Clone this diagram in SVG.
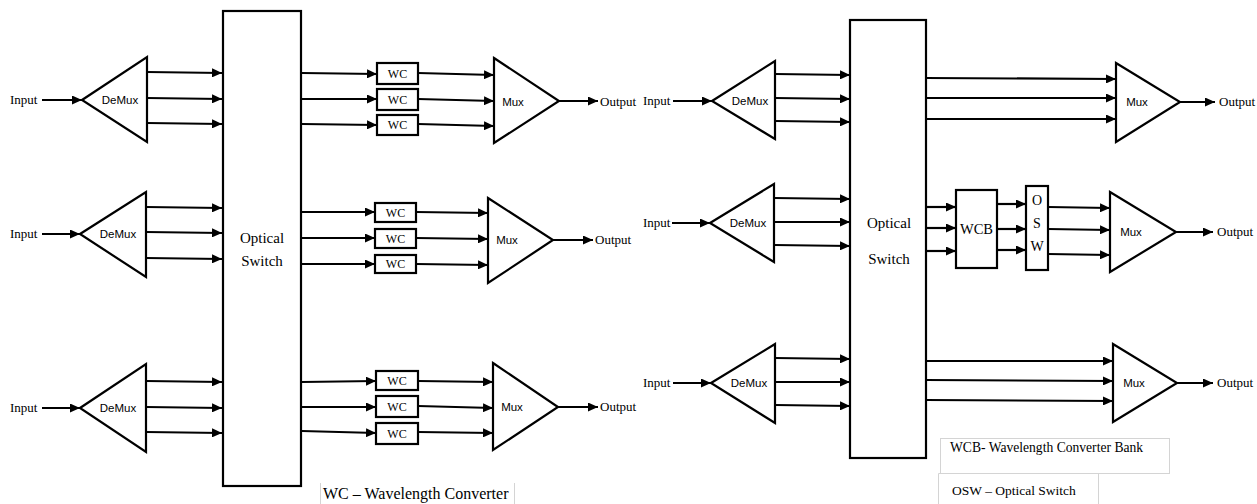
<svg xmlns="http://www.w3.org/2000/svg" width="1257" height="504" viewBox="0 0 1257 504">
<style>
.bg{fill:#fff}
.box{fill:#fff;stroke:#000;stroke-width:2.2}
.tri{fill:#fff;stroke:#000;stroke-width:2.2;stroke-linejoin:miter}
.wc{fill:#fff;stroke:#000;stroke-width:2.2}
.ln{stroke:#000;stroke-width:2.2;fill:none;marker-end:url(#ah)}
.ser{font-family:"Liberation Serif","Times New Roman",serif;fill:#000}
.sans{font-family:"Liberation Sans",Arial,sans-serif;font-size:11.5px;fill:#000}
.io{font-size:13px}
.leg{stroke:#d4d4d4;stroke-width:1;fill:none}
</style>
<defs>
<marker id="ah" markerUnits="userSpaceOnUse" markerWidth="10" markerHeight="9" refX="10" refY="4.5" orient="auto">
<path d="M0,0 L10,4.5 L0,9 z" fill="#000"/>
</marker>
</defs>
<rect class="bg" x="0" y="0" width="1257" height="504"/>

<!-- LEFT DIAGRAM -->
<g id="L-switch">
<rect class="box" x="223" y="11" width="78" height="475"/>
<text class="ser" x="262" y="243" font-size="15" text-anchor="middle">Optical</text>
<text class="ser" x="262" y="266" font-size="15" text-anchor="middle">Switch</text>
</g>
<g id="L-in1"><text class="ser io" x="10" y="104">Input</text></g>
<g id="L-in2"><text class="ser io" x="10" y="238">Input</text></g>
<g id="L-in3"><text class="ser io" x="10" y="412">Input</text></g>
<g id="L-demux1"><polygon class="tri" points="82,100 147,57 147,142"/><text class="sans" x="120" y="104" text-anchor="middle">DeMux</text></g>
<g id="L-demux2"><polygon class="tri" points="80,234 146,192 146,277"/><text class="sans" x="118" y="238" text-anchor="middle">DeMux</text></g>
<g id="L-demux3"><polygon class="tri" points="80,408 146,364 146,452"/><text class="sans" x="118" y="412" text-anchor="middle">DeMux</text></g>

<g id="L-wc1a"><rect class="wc" x="377" y="63" width="41" height="21"/><text class="ser" x="397.5" y="78" font-size="12" text-anchor="middle">WC</text></g>
<g id="L-wc1b"><rect class="wc" x="377" y="89" width="41" height="21"/><text class="ser" x="397.5" y="104" font-size="12" text-anchor="middle">WC</text></g>
<g id="L-wc1c"><rect class="wc" x="377" y="115" width="41" height="20"/><text class="ser" x="397.5" y="129" font-size="12" text-anchor="middle">WC</text></g>
<g id="L-wc2a"><rect class="wc" x="375" y="203" width="41" height="19"/><text class="ser" x="395.5" y="217" font-size="12" text-anchor="middle">WC</text></g>
<g id="L-wc2b"><rect class="wc" x="375" y="229" width="41" height="19"/><text class="ser" x="395.5" y="243" font-size="12" text-anchor="middle">WC</text></g>
<g id="L-wc2c"><rect class="wc" x="375" y="255" width="41" height="18"/><text class="ser" x="395.5" y="268" font-size="12" text-anchor="middle">WC</text></g>
<g id="L-wc3a"><rect class="wc" x="376" y="371" width="42" height="19"/><text class="ser" x="397" y="385" font-size="12" text-anchor="middle">WC</text></g>
<g id="L-wc3b"><rect class="wc" x="376" y="396" width="42" height="21"/><text class="ser" x="397" y="411" font-size="12" text-anchor="middle">WC</text></g>
<g id="L-wc3c"><rect class="wc" x="376" y="423" width="42" height="21"/><text class="ser" x="397" y="438" font-size="12" text-anchor="middle">WC</text></g>

<g id="L-mux1"><polygon class="tri" points="494,58 559,101 494,143"/><text class="sans" x="513" y="106" text-anchor="middle">Mux</text></g>
<g id="L-mux2"><polygon class="tri" points="488,198 553,240 488,283"/><text class="sans" x="507" y="244" text-anchor="middle">Mux</text></g>
<g id="L-mux3"><polygon class="tri" points="493,363 558,407 493,450"/><text class="sans" x="512" y="411" text-anchor="middle">Mux</text></g>
<g id="L-out1"><text class="ser io" x="600" y="106">Output</text></g>
<g id="L-out2"><text class="ser io" x="595" y="244">Output</text></g>
<g id="L-out3"><text class="ser io" x="600" y="411">Output</text></g>

<g id="L-legend">
<line class="leg" x1="320.5" y1="483" x2="320.5" y2="504"/>
<line class="leg" x1="514.5" y1="483" x2="514.5" y2="504"/>
<text class="ser" x="323" y="499" font-size="16">WC – Wavelength Converter</text>
</g>

<!-- RIGHT DIAGRAM -->
<g id="R-switch">
<rect class="box" x="850" y="20" width="76" height="438"/>
<text class="ser" x="889" y="228" font-size="15" text-anchor="middle">Optical</text>
<text class="ser" x="889" y="264" font-size="15" text-anchor="middle">Switch</text>
</g>
<g id="R-in1"><text class="ser io" x="643" y="105">Input</text></g>
<g id="R-in2"><text class="ser io" x="643" y="227">Input</text></g>
<g id="R-in3"><text class="ser io" x="643" y="387">Input</text></g>
<g id="R-demux1"><polygon class="tri" points="712,101 775,61 775,139"/><text class="sans" x="750" y="105" text-anchor="middle">DeMux</text></g>
<g id="R-demux2"><polygon class="tri" points="710,223 774,184 774,262"/><text class="sans" x="748" y="227" text-anchor="middle">DeMux</text></g>
<g id="R-demux3"><polygon class="tri" points="711,383 775,344 775,423"/><text class="sans" x="749" y="387" text-anchor="middle">DeMux</text></g>

<g id="R-wcb"><rect class="box" x="956" y="190" width="41" height="78"/><text class="ser" x="976.5" y="234" font-size="14.5" text-anchor="middle">WCB</text></g>
<g id="R-osw"><rect class="box" x="1026" y="186" width="22" height="84"/>
<text class="ser" x="1037" y="205" font-size="14" text-anchor="middle">O</text>
<text class="ser" x="1037" y="228" font-size="14" text-anchor="middle">S</text>
<text class="ser" x="1037" y="251" font-size="14" text-anchor="middle">W</text>
</g>

<g id="R-mux1"><polygon class="tri" points="1116,63 1180,102 1116,142"/><text class="sans" x="1137" y="106" text-anchor="middle">Mux</text></g>
<g id="R-mux2"><polygon class="tri" points="1110,192 1176,232 1110,272"/><text class="sans" x="1131" y="236" text-anchor="middle">Mux</text></g>
<g id="R-mux3"><polygon class="tri" points="1113,344 1177,383 1113,422"/><text class="sans" x="1134" y="387" text-anchor="middle">Mux</text></g>
<g id="R-out1"><text class="ser io" x="1219" y="106">Output</text></g>
<g id="R-out2"><text class="ser io" x="1217" y="236">Output</text></g>
<g id="R-out3"><text class="ser io" x="1217" y="387">Output</text></g>

<g id="R-legend">
<rect class="leg" x="940.5" y="438.5" width="229" height="35"/>
<polyline class="leg" points="938.5,504 938.5,473.5 1098.5,473.5 1098.5,504"/>
<text class="ser" x="950" y="452" font-size="13.6">WCB- Wavelength Converter Bank</text>
<text class="ser" x="952" y="495" font-size="13.5">OSW – Optical Switch</text>
</g>

<g id="connectors">
<!-- left inputs -->
<line class="ln" x1="42" y1="100" x2="82" y2="100"/>
<line class="ln" x1="42" y1="234" x2="80" y2="234"/>
<line class="ln" x1="42" y1="408" x2="80" y2="408"/>
<!-- left demux -> switch -->
<line class="ln" x1="147" y1="72" x2="222" y2="73"/>
<line class="ln" x1="147" y1="98" x2="222" y2="99"/>
<line class="ln" x1="147" y1="123" x2="222" y2="124"/>
<line class="ln" x1="146" y1="207" x2="222" y2="208"/>
<line class="ln" x1="146" y1="232" x2="222" y2="233"/>
<line class="ln" x1="146" y1="258" x2="222" y2="259"/>
<line class="ln" x1="146" y1="381" x2="222" y2="382"/>
<line class="ln" x1="146" y1="407" x2="222" y2="408"/>
<line class="ln" x1="146" y1="432" x2="222" y2="433"/>
<!-- left switch -> WC -->
<line class="ln" x1="302" y1="73" x2="377" y2="74"/>
<line class="ln" x1="302" y1="99" x2="377" y2="99"/>
<line class="ln" x1="302" y1="124" x2="377" y2="125"/>
<line class="ln" x1="302" y1="212" x2="375" y2="212"/>
<line class="ln" x1="302" y1="238" x2="375" y2="238"/>
<line class="ln" x1="302" y1="264" x2="375" y2="264"/>
<line class="ln" x1="302" y1="382" x2="376" y2="381"/>
<line class="ln" x1="302" y1="407" x2="376" y2="407"/>
<line class="ln" x1="302" y1="431" x2="376" y2="433"/>
<!-- left WC -> Mux -->
<line class="ln" x1="418" y1="73" x2="494" y2="75"/>
<line class="ln" x1="418" y1="99" x2="494" y2="101"/>
<line class="ln" x1="418" y1="124" x2="494" y2="126"/>
<line class="ln" x1="416" y1="212" x2="488" y2="213"/>
<line class="ln" x1="416" y1="238" x2="488" y2="239"/>
<line class="ln" x1="416" y1="264" x2="488" y2="265"/>
<line class="ln" x1="418" y1="381" x2="493" y2="382"/>
<line class="ln" x1="418" y1="406" x2="493" y2="408"/>
<line class="ln" x1="418" y1="432" x2="493" y2="433"/>
<!-- left outputs -->
<line class="ln" x1="559" y1="101" x2="598" y2="101"/>
<line class="ln" x1="553" y1="240" x2="593" y2="240"/>
<line class="ln" x1="558" y1="407" x2="598" y2="407"/>

<!-- right inputs -->
<line class="ln" x1="673" y1="101" x2="712" y2="101"/>
<line class="ln" x1="672" y1="223" x2="710" y2="223"/>
<line class="ln" x1="673" y1="383" x2="711" y2="383"/>
<!-- right demux -> switch -->
<line class="ln" x1="775" y1="74" x2="850" y2="75"/>
<line class="ln" x1="775" y1="98" x2="850" y2="99"/>
<line class="ln" x1="775" y1="121" x2="850" y2="122"/>
<line class="ln" x1="774" y1="198" x2="850" y2="199"/>
<line class="ln" x1="774" y1="222" x2="850" y2="222"/>
<line class="ln" x1="774" y1="245" x2="850" y2="246"/>
<line class="ln" x1="775" y1="358" x2="850" y2="359"/>
<line class="ln" x1="775" y1="382" x2="850" y2="382"/>
<line class="ln" x1="775" y1="405" x2="850" y2="406"/>
<!-- right switch -> mux (top, bottom) -->
<line class="ln" x1="926" y1="78" x2="1116" y2="79"/>
<line class="ln" x1="926" y1="98" x2="1116" y2="98"/>
<line class="ln" x1="926" y1="119" x2="1116" y2="119"/>
<line class="ln" x1="926" y1="361" x2="1113" y2="361"/>
<line class="ln" x1="926" y1="380" x2="1113" y2="381"/>
<line class="ln" x1="926" y1="400" x2="1113" y2="401"/>
<!-- right middle: switch -> WCB -> OSW -> Mux -->
<line class="ln" x1="926" y1="207" x2="956" y2="207"/>
<line class="ln" x1="926" y1="228" x2="956" y2="228"/>
<line class="ln" x1="926" y1="251" x2="956" y2="251"/>
<line class="ln" x1="997" y1="204" x2="1026" y2="204"/>
<line class="ln" x1="997" y1="229" x2="1026" y2="229"/>
<line class="ln" x1="997" y1="250" x2="1026" y2="250"/>
<line class="ln" x1="1048" y1="207" x2="1110" y2="208"/>
<line class="ln" x1="1048" y1="229" x2="1110" y2="230"/>
<line class="ln" x1="1048" y1="254" x2="1110" y2="255"/>
<!-- right outputs -->
<line class="ln" x1="1180" y1="102" x2="1215" y2="102"/>
<line class="ln" x1="1176" y1="232" x2="1213" y2="232"/>
<line class="ln" x1="1177" y1="383" x2="1213" y2="383"/>
</g>
</svg>
